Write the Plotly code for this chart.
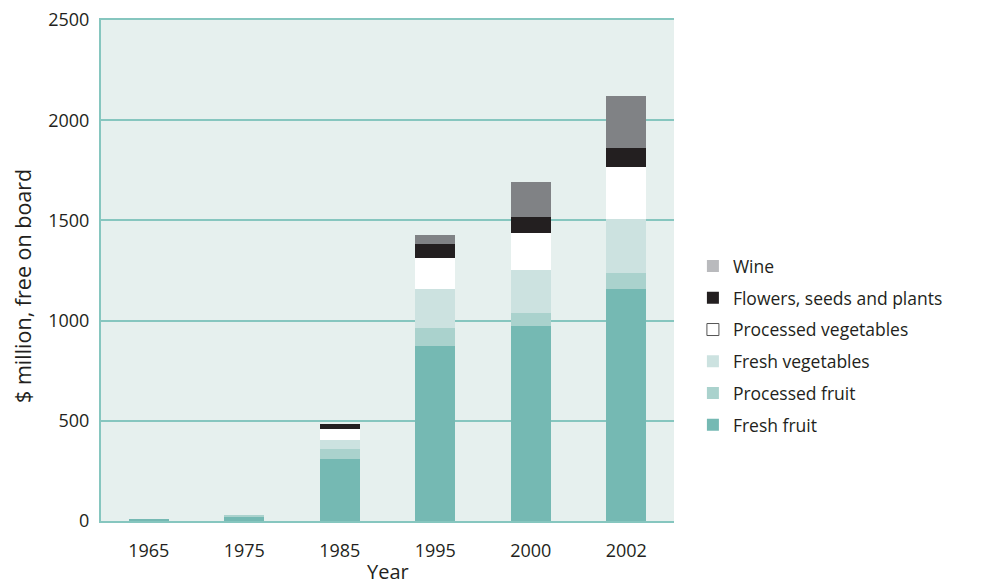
import plotly.graph_objects as go

years = ["1965", "1975", "1985", "1995", "2000", "2002"]
fresh_fruit = [10, 20, 310, 875, 975, 1160]
processed_fruit = [0, 10, 50, 90, 65, 80]
fresh_vegetables = [0, 0, 45, 195, 215, 265]
processed_vegetables = [0, 0, 53, 150, 180, 260]
flowers = [0, 0, 27, 70, 80, 95]
wine = [0, 0, 0, 45, 175, 260]

series = [
    ("Fresh fruit", fresh_fruit, "#75b9b3", "#75b9b3", None),
    ("Processed fruit", processed_fruit, "#aad2cd", "#aad2cd", None),
    ("Fresh vegetables", fresh_vegetables, "#cce2e0", "#cce2e0", None),
    ("Processed vegetables", processed_vegetables, "#ffffff", "#ffffff", "#555555"),
    ("Flowers, seeds and plants", flowers, "#231f20", "#231f20", None),
    ("Wine", wine, "#808285", "#b9babd", None),
]

fig = go.Figure()
for name, vals, col, legcol, border in series:
    fig.add_trace(go.Bar(
        x=years, y=vals, name=name, marker=dict(color=col, line=dict(width=0)),
        showlegend=False, hoverinfo="x+y+name",
    ))
for name, vals, col, legcol, border in reversed(series):
    fig.add_trace(go.Bar(
        x=[None], y=[None], name=name, legendgroup=name,
        marker=dict(color=legcol, line=dict(width=1 if border else 0, color=border or legcol)),
        showlegend=True,
    ))

fig.update_layout(
    barmode="stack",
    bargap=0.58,
    width=984, height=585,
    margin=dict(l=93, r=318, t=12, b=72),
    paper_bgcolor="white",
    plot_bgcolor="#e6f0ee",
    font=dict(family="Open Sans, Noto Sans, sans-serif", size=18, color="#231f20"),
    legend=dict(
        x=1.033, y=0.35, xanchor="left", yanchor="middle",
        traceorder="grouped", tracegroupgap=6,
        font=dict(size=17.5), bgcolor="rgba(0,0,0,0)",
        itemclick=False,
    ),
    xaxis=dict(
        showline=True, linecolor="#86c6bf", linewidth=2, mirror=True,
        ticks="", showgrid=False, automargin=False, ticklabelstandoff=12,
    ),
    yaxis=dict(
        range=[0, 2500], tickvals=[0, 500, 1000, 1500, 2000, 2500],
        showline=True, linecolor="#86c6bf", linewidth=2,
        gridcolor="#86c6bf", gridwidth=2, zeroline=False,
        ticks="", ticklabelstandoff=6, automargin=False,
        ticklabeloverflow="allow",
    ),
    annotations=[
        dict(text="$ million, free on board", xref="paper", yref="paper",
             x=-0.138, y=0.469, xanchor="center", yanchor="middle",
             textangle=-90, showarrow=False, font=dict(size=21.5)),
        dict(text="Year", xref="paper", yref="paper",
             x=0.5, y=-0.1, xanchor="center", yanchor="middle",
             showarrow=False, font=dict(size=20)),
    ],
)

fig.write_html("out.html")
